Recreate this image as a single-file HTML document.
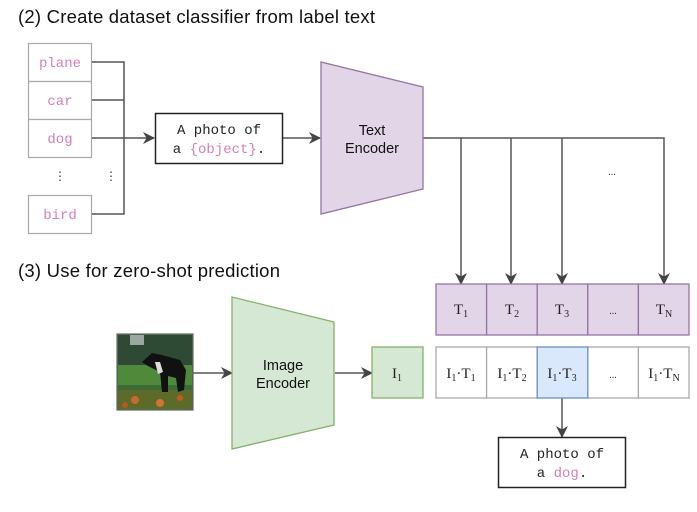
<!DOCTYPE html>
<html><head><meta charset="utf-8"><style>
html,body{margin:0;padding:0;background:#fff;}
svg{display:block;}
.h{font-family:"Liberation Sans",Arial,sans-serif;font-size:18.5px;fill:#111;}
.m{font-family:"Liberation Mono",monospace;font-size:14px;fill:#222;}
.p{fill:#d480b6;}
.s{font-family:"Liberation Serif",serif;font-size:15px;fill:#222;}
.e{font-family:"Liberation Sans",Arial,sans-serif;font-size:14.5px;fill:#111;}
</style></head><body>
<svg width="697" height="512" viewBox="0 0 697 512" xmlns="http://www.w3.org/2000/svg">
<defs>
<marker id="a" markerWidth="12" markerHeight="12" refX="11" refY="6" orient="auto" markerUnits="userSpaceOnUse">
<path d="M0,0 L12,6 L0,12 L3.5,6 z" fill="#444"/></marker>
</defs>
<text class="h" x="18" y="23" textLength="357">(2) Create dataset classifier from label text</text>
<text class="h" x="18" y="277" textLength="262">(3) Use for zero-shot prediction</text>

<g fill="#fff" stroke="#aaa" stroke-width="1.2">
<rect x="28.5" y="43.5" width="63" height="38"/>
<rect x="28.5" y="81.5" width="63" height="38"/>
<rect x="28.5" y="119.5" width="63" height="38"/>
<rect x="28.5" y="195.5" width="63" height="38"/>
</g>
<g text-anchor="middle">
<text x="60" y="67" class="m p">plane</text>
<text x="60" y="105" class="m p">car</text>
<text x="60" y="143" class="m p">dog</text>
<text x="60" y="219" class="m p">bird</text>
</g>
<text x="60" y="180" text-anchor="middle" font-size="12" fill="#335">⋮</text>
<text x="111" y="180" text-anchor="middle" font-size="12" fill="#335">⋮</text>
<g stroke="#555" stroke-width="1.5" fill="none">
<path d="M92 62 H124 V214 H92"/>
<path d="M92 100 H124"/>
<path d="M92 138 H154" marker-end="url(#a)"/>
<path d="M283 138 H320" marker-end="url(#a)"/>
<path d="M423 138 H664 V284" marker-end="url(#a)"/>
<path d="M461 138 V284" marker-end="url(#a)"/>
<path d="M511 138 V284" marker-end="url(#a)"/>
<path d="M562 138 V284" marker-end="url(#a)"/>
<path d="M193 373 H232" marker-end="url(#a)"/>
<path d="M335 373 H372" marker-end="url(#a)"/>
<path d="M562 398 V437" marker-end="url(#a)"/>
</g>
<text x="612" y="175" text-anchor="middle" font-size="10" fill="#333">...</text>

<rect x="155.5" y="113.5" width="127" height="50" fill="#fff" stroke="#222" stroke-width="1.5"/>
<text class="m" x="219" y="134" text-anchor="middle">A photo of</text>
<text class="m" x="219" y="153" text-anchor="middle">a <tspan class="p">{object}</tspan>.</text>

<polygon points="321,62 423,87 423,189 321,214" fill="#e1d5e7" stroke="#9673a6" stroke-width="1.3"/>
<text class="e" x="372" y="135" text-anchor="middle">Text</text>
<text class="e" x="372" y="153" text-anchor="middle">Encoder</text>

<g fill="#e1d5e7" stroke="#9673a6" stroke-width="1.3">
<rect x="436" y="284" width="50.6" height="51"/>
<rect x="486.6" y="284" width="50.6" height="51"/>
<rect x="537.2" y="284" width="50.6" height="51"/>
<rect x="587.8" y="284" width="50.6" height="51"/>
<rect x="638.4" y="284" width="50.6" height="51"/>
</g>
<g text-anchor="middle">
<text class="s" x="461" y="314">T<tspan font-size="10" dy="3">1</tspan></text>
<text class="s" x="512" y="314">T<tspan font-size="10" dy="3">2</tspan></text>
<text class="s" x="562" y="314">T<tspan font-size="10" dy="3">3</tspan></text>
<text x="613" y="314" font-size="10" fill="#333">...</text>
<text class="s" x="664" y="314">T<tspan font-size="10" dy="3">N</tspan></text>
</g>

<g fill="#fff" stroke="#aaa" stroke-width="1.3">
<rect x="436" y="347" width="50.6" height="51"/>
<rect x="486.6" y="347" width="50.6" height="51"/>
<rect x="587.8" y="347" width="50.6" height="51"/>
<rect x="638.4" y="347" width="50.6" height="51"/>
</g>
<rect x="537.2" y="347" width="50.6" height="51" fill="#dae8fc" stroke="#6c8ebf" stroke-width="1.3"/>
<g text-anchor="middle">
<text class="s" x="461" y="378">I<tspan font-size="10" dy="3">1</tspan><tspan dy="-3">·T</tspan><tspan font-size="10" dy="3">1</tspan></text>
<text class="s" x="512" y="378">I<tspan font-size="10" dy="3">1</tspan><tspan dy="-3">·T</tspan><tspan font-size="10" dy="3">2</tspan></text>
<text class="s" x="562" y="378">I<tspan font-size="10" dy="3">1</tspan><tspan dy="-3">·T</tspan><tspan font-size="10" dy="3">3</tspan></text>
<text x="613" y="378" font-size="10" fill="#333">...</text>
<text class="s" x="664" y="378">I<tspan font-size="10" dy="3">1</tspan><tspan dy="-3">·T</tspan><tspan font-size="10" dy="3">N</tspan></text>
</g>

<rect x="498.5" y="437.5" width="127" height="50" fill="#fff" stroke="#222" stroke-width="1.5"/>
<text class="m" x="562" y="458" text-anchor="middle">A photo of</text>
<text class="m" x="562" y="477" text-anchor="middle">a <tspan class="p">dog</tspan>.</text>

<rect x="117" y="334" width="76" height="76" fill="#3d6b35" stroke="#666" stroke-width="1.2"/>
<rect x="118" y="335" width="74" height="30" fill="#2f4a34"/>
<rect x="130" y="335" width="14" height="10" fill="#9aa7a4"/>
<rect x="118" y="365" width="74" height="20" fill="#4f8a3a"/>
<rect x="118" y="390" width="74" height="19" fill="#5c6b2a"/>
<circle cx="135" cy="400" r="4" fill="#c86a2a"/><circle cx="160" cy="403" r="4" fill="#d4732a"/><circle cx="180" cy="398" r="3" fill="#c45a20"/><circle cx="125" cy="405" r="3" fill="#b8552a"/>
<path d="M142 362 L152 353 L162 355 L180 360 L186 370 L184 390 L178 392 L176 378 L168 376 L168 392 L162 392 L160 372 L152 368 L148 366 Z" fill="#111"/>
<path d="M155 362 L160 362 L163 372 L158 374 Z" fill="#ddd"/>

<polygon points="232,297 334,322 334,425 232,449" fill="#d5e8d4" stroke="#82b366" stroke-width="1.3"/>
<text class="e" x="283" y="370" text-anchor="middle">Image</text>
<text class="e" x="283" y="388" text-anchor="middle">Encoder</text>

<rect x="372" y="347" width="51" height="51" fill="#d5e8d4" stroke="#82b366" stroke-width="1.3"/>
<text class="s" x="397" y="378" text-anchor="middle">I<tspan font-size="10" dy="3">1</tspan></text>
</svg>
</body></html>
